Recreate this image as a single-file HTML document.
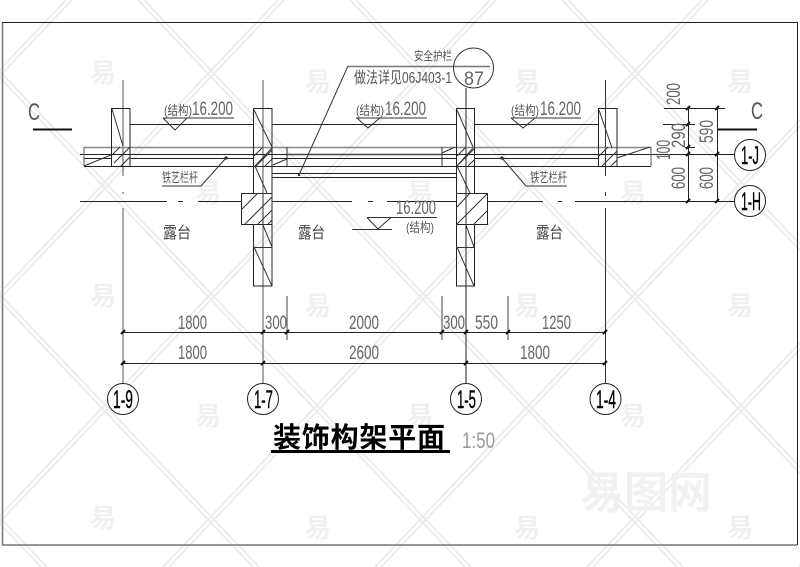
<!DOCTYPE html>
<html lang="zh">
<head>
<meta charset="utf-8">
<title>装饰构架平面</title>
<style>
html,body{margin:0;padding:0;background:#fff;width:800px;height:567px;overflow:hidden}
svg{display:block}
text{font-family:"Liberation Sans","Noto Sans CJK SC",sans-serif;fill:#333}
.d{font-size:19px;fill:#666}
.a{font-size:25px;fill:#000;stroke:#000;stroke-width:.4}
.z{font-family:"Liberation Sans","Noto Sans CJK SC",sans-serif;font-size:13px;fill:#555}
.t{font-size:16px;fill:#444}
.w{font-size:26px;fill:#f0f0f0;font-family:"Noto Sans CJK SC",sans-serif;font-weight:700}
</style>
</head>
<body>
<svg xmlns="http://www.w3.org/2000/svg" width="800" height="567" viewBox="0 0 800 567">
<rect width="800" height="567" fill="#fff"/>

<!-- watermark lattice -->
<g fill="none" stroke="#ececec" stroke-width="1.8">
<path d="M-74 0L465 567M138 0L677 567M350 0L889 567M562 0L1101 567M-286 0L253 567M-498 0L41 567M66 0L-473 567M278 0L-261 567M490 0L-49 567M702 0L163 567M914 0L375 567M1126 0L587 567M1338 0L799 567"/>
<path transform="translate(6,0)" d="M-74 0L465 567M138 0L677 567M350 0L889 567M562 0L1101 567M-286 0L253 567M-498 0L41 567M66 0L-473 567M278 0L-261 567M490 0L-49 567M702 0L163 567M914 0L375 567M1126 0L587 567M1338 0L799 567"/>
</g>
<g class="w">
<text class="w" x="90" y="82">易</text><text class="w" x="305" y="91">易</text><text class="w" x="514" y="91">易</text><text class="w" x="727" y="91">易</text>
<text class="w" x="195" y="202">易</text><text class="w" x="407" y="202">易</text><text class="w" x="620" y="202">易</text>
<text class="w" x="90" y="305">易</text><text class="w" x="305" y="315">易</text><text class="w" x="514" y="315">易</text><text class="w" x="727" y="315">易</text>
<text class="w" x="195" y="425">易</text><text class="w" x="407" y="425">易</text><text class="w" x="620" y="425">易</text>
<text class="w" x="90" y="527">易</text><text class="w" x="305" y="537">易</text><text class="w" x="514" y="537">易</text><text class="w" x="727" y="537">易</text>
<text x="580" y="508" style="font-size:44px;fill:#f1f1f1;font-family:'Noto Sans CJK SC',sans-serif;font-weight:700">易图网</text>
</g>

<!-- frame -->
<path d="M2.5 23V545" stroke="#777" stroke-width="1.5" fill="none"/>
<path d="M2 22.5H798" stroke="#222" stroke-width="1" fill="none"/>
<path d="M2 545H797" stroke="#777" stroke-width="1.5" fill="none"/>
<path d="M797.5 22V545" stroke="#222" stroke-width="1" fill="none"/>

<!-- axes vertical -->
<g stroke="#555" stroke-width="1" fill="none">
<path d="M123 80V176M123 192V194M123 208V383"/>
<path d="M263 80V383"/>
<path d="M605.5 80V176M605.5 192V196M605.5 208V383" stroke="#333"/>
</g>
<path d="M466 88V383" stroke="#222" fill="none"/>

<!-- axes horizontal -->
<g stroke="#222" stroke-width="1" fill="none">
<path d="M80 201.5H167M178 201.5H183M198 201.5H352M368 201.5H373M387 201.5H543M558 201.5H562M575 201.5H735"/>
<path d="M80 154.5H735"/>
<path d="M84 158.5H111M130 158.5H253M272 158.5H456M474 158.5H598"/>
<path d="M84 166.5H651"/>
<path d="M272 173.5H456M272 177.5H456"/>
<path d="M130 124.5H253M272 124.5H456M474 124.5H598"/>
</g>
<path d="M84 147.5H651" stroke="#888" stroke-width="1.6" fill="none"/>
<path d="M287 154.5H442" stroke="#444" stroke-width="1.6" fill="none"/>
<path d="M84 147V166M651 147V166" stroke="#555" fill="none"/>
<path d="M84 166L111 155M617 158L650 147M273 165L287 159M287 147V166M442 147V166M442 153L455 147" stroke="#333" fill="none"/>

<!-- columns -->
<g fill="#fff" stroke="#222" stroke-width="1">
<rect x="111.5" y="108.5" width="18.5" height="58" fill="none"/>
<rect x="253.5" y="108.5" width="18.5" height="177.5" fill="none"/>
<rect x="456.5" y="108.5" width="18" height="177.5" fill="none"/>
<rect x="598.5" y="108.5" width="18.5" height="58" fill="none"/>
<rect x="241.5" y="193.5" width="30.5" height="31"/>
<rect x="456.5" y="193.5" width="31" height="31"/>
</g>
<g stroke="#333" stroke-width="1" fill="none">
<path d="M253 193.5H272M253 247.5H272M456 193.5H475M456 247.5H475"/>
<path d="M466 193V225M263 193V225"/>
<path d="M112 109L123 146M254 110L272 147M272 148L255 166M255 166L267 193M263 225L272 247M254 247L272 286"/>
<path d="M457 110L473 147M473 148L457 166M457 166L470 193M466 225L474 247M457 247L474 286"/>
<path d="M599 110L612 148"/>
<path d="M111 156L120 147M114 163L130 147M121 166L130 157"/>
<path d="M254 156L263 147M256 166L272 150M265 166L272 159"/>
<path d="M457 156L466 147M457 166L474 149M468 166L474 160"/>
<path d="M599 156L608 147M602 166L617 151M611 166L617 160"/>
<path d="M242 209L258 193M245 224L272 197M258 224L272 210M268 224L272 220"/>
<path d="M457 207L470 193M457 224L487 194M474 224L487 211"/>
</g>
<g fill="#222"><circle cx="226" cy="158" r="1.6"/><circle cx="502" cy="158" r="1.6"/><circle cx="299" cy="175" r="1.2"/></g>

<!-- leaders -->
<g stroke="#333" fill="none">
<path d="M299 175L348 66"/>
<path d="M226 158L201 186H162"/>
<path d="M502 158L526 186H567"/>
</g>
<path d="M348 66.5H490" stroke="#777" stroke-width="1.4" fill="none"/>
<circle cx="473.5" cy="68" r="20" fill="none" stroke="#333"/>
<text class="z" x="414" y="60" textLength="38" lengthAdjust="spacingAndGlyphs" style="font-size:12px">安全护栏</text>
<text class="z" x="354" y="83" textLength="98" lengthAdjust="spacingAndGlyphs" style="font-size:16px">做法详见06J403-1</text>
<text class="d" x="464" y="85" textLength="20" lengthAdjust="spacingAndGlyphs">87</text>

<!-- elevations -->
<g stroke="#333" fill="none">
<path d="M163 118H234M163 118L175 130L187 118"/>
<path d="M356 118H427M357 118L368 128L380 118"/>
<path d="M511 118H581M511 118L523 128L535 118"/>
<path d="M367 217.5H437M367 217.5L378 229L391 217.5M352 229.5H392"/>
</g>
<g>
<text class="z" x="164" y="115" textLength="28" lengthAdjust="spacingAndGlyphs">(结构)</text>
<text class="d" x="192" y="115" textLength="41" lengthAdjust="spacingAndGlyphs">16.200</text>
<text class="z" x="356" y="115" textLength="28" lengthAdjust="spacingAndGlyphs">(结构)</text>
<text class="d" x="385" y="115" textLength="41" lengthAdjust="spacingAndGlyphs">16.200</text>
<text class="z" x="511" y="115" textLength="28" lengthAdjust="spacingAndGlyphs">(结构)</text>
<text class="d" x="540" y="115" textLength="41" lengthAdjust="spacingAndGlyphs">16.200</text>
<text class="d" x="396" y="214" textLength="40" lengthAdjust="spacingAndGlyphs">16.200</text>
<text class="z" x="406" y="232" textLength="28" lengthAdjust="spacingAndGlyphs">(结构)</text>
<text class="z" x="162" y="182" textLength="36" lengthAdjust="spacingAndGlyphs">铁艺栏杆</text>
<text class="z" x="530" y="182" textLength="37" lengthAdjust="spacingAndGlyphs">铁艺栏杆</text>
<text class="t" x="163" y="238" textLength="28" lengthAdjust="spacingAndGlyphs">露台</text>
<text class="t" x="298" y="238" textLength="27" lengthAdjust="spacingAndGlyphs">露台</text>
<text class="t" x="536" y="238" textLength="27" lengthAdjust="spacingAndGlyphs">露台</text>
</g>

<!-- C marks -->
<text x="28" y="120" textLength="12" lengthAdjust="spacingAndGlyphs" style="font-size:24px;fill:#555">C</text>
<text x="751" y="119" textLength="12" lengthAdjust="spacingAndGlyphs" style="font-size:24px;fill:#555">C</text>
<path d="M33 129.5H72M717 129.5H757" stroke="#111" stroke-width="2" fill="none"/>

<!-- bottom dims -->
<g stroke="#222" fill="none">
<path d="M123 332.5H605M123 363.5H605"/>
<path d="M287 296V340M442 296V340M508 296V340" stroke="#444"/>
</g>
<g stroke="#111" stroke-width="2" fill="none">
<path d="M121 334L125 330M261 334L265 330M285 334L289 330M440 334L444 330M464 334L468 330M506 334L510 330M603 334L607 330"/>
<path d="M121 365L125 361M261 365L265 361M464 365L468 361M603 365L607 361"/>
<path d="M686 110L690 106M715 110L719 106M686 126L690 122M686 149L690 145M686 156L690 152M715 156L719 152M686 203L690 199M715 203L719 199"/>
</g>
<g class="d">
<text class="d" x="178" y="329" textLength="29" lengthAdjust="spacingAndGlyphs">1800</text>
<text class="d" x="265" y="329" textLength="22" lengthAdjust="spacingAndGlyphs">300</text>
<text class="d" x="349" y="329" textLength="30" lengthAdjust="spacingAndGlyphs">2000</text>
<text class="d" x="443" y="329" textLength="22" lengthAdjust="spacingAndGlyphs">300</text>
<text class="d" x="475" y="329" textLength="23" lengthAdjust="spacingAndGlyphs">550</text>
<text class="d" x="542" y="329" textLength="29" lengthAdjust="spacingAndGlyphs">1250</text>
<text class="d" x="178" y="359" textLength="29" lengthAdjust="spacingAndGlyphs">1800</text>
<text class="d" x="349" y="359" textLength="30" lengthAdjust="spacingAndGlyphs">2600</text>
<text class="d" x="520" y="359" textLength="30" lengthAdjust="spacingAndGlyphs">1800</text>
</g>

<!-- right dims -->
<g stroke="#222" fill="none">
<path d="M688.5 108V201M717.5 108V201"/>
<path d="M664 108.5H725M663 124.5H695M685 147.5H695M688 201.5H735"/>
</g>
<g>
<text class="d" transform="translate(680,105) rotate(-90)" textLength="22" lengthAdjust="spacingAndGlyphs">200</text>
<text class="d" transform="translate(685,148) rotate(-90)" textLength="25" lengthAdjust="spacingAndGlyphs">290</text>
<text class="d" transform="translate(670,160) rotate(-90)" textLength="20" lengthAdjust="spacingAndGlyphs">100</text>
<text class="d" transform="translate(713,143) rotate(-90)" textLength="23" lengthAdjust="spacingAndGlyphs">590</text>
<text class="d" transform="translate(685,189) rotate(-90)" textLength="22" lengthAdjust="spacingAndGlyphs">600</text>
<text class="d" transform="translate(713,189) rotate(-90)" textLength="22" lengthAdjust="spacingAndGlyphs">600</text>
</g>

<!-- axis bubbles -->
<g fill="#fff" stroke="#222">
<circle cx="123" cy="399" r="15.5"/><circle cx="263" cy="399" r="15.5"/>
<circle cx="466" cy="399" r="15.5"/><circle cx="605.5" cy="399" r="15.5"/>
<circle cx="750" cy="155" r="15.5"/><circle cx="750" cy="201" r="15.5"/>
</g>
<g>
<text class="a" x="113" y="408" textLength="20" lengthAdjust="spacingAndGlyphs">1-9</text>
<text class="a" x="254" y="408" textLength="19" lengthAdjust="spacingAndGlyphs">1-7</text>
<text class="a" x="457" y="408" textLength="19" lengthAdjust="spacingAndGlyphs">1-5</text>
<text class="a" x="596" y="408" textLength="20" lengthAdjust="spacingAndGlyphs">1-4</text>
<text class="a" x="741" y="164" textLength="18" lengthAdjust="spacingAndGlyphs">1-J</text>
<text class="a" x="741" y="210" textLength="20" lengthAdjust="spacingAndGlyphs">1-H</text>
</g>

<!-- title -->
<text x="273" y="447" textLength="172" style="font-family:'Noto Sans CJK SC',sans-serif;font-weight:700;font-size:28px;fill:#000">装饰构架平面</text>
<rect x="271" y="450" width="179" height="3" fill="#000"/>
<text x="462" y="448" textLength="33" lengthAdjust="spacingAndGlyphs" style="font-size:22px;fill:#999">1:50</text>
</svg>
</body>
</html>
